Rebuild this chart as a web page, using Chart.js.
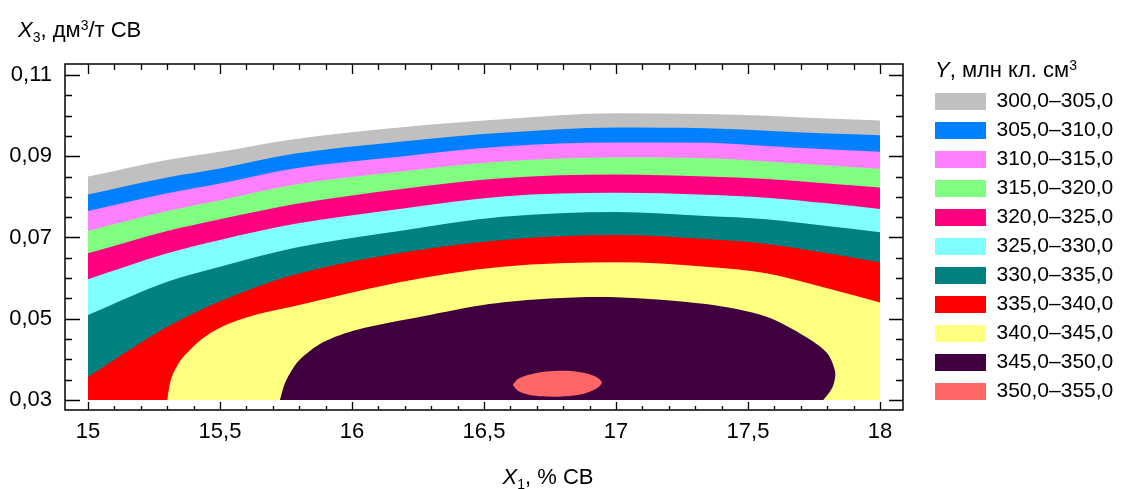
<!DOCTYPE html>
<html>
<head>
<meta charset="utf-8">
<script src="https://cdn.jsdelivr.net/npm/chart.js@4.4.0/dist/chart.umd.min.js"></script>
<style>
html,body{margin:0;padding:0;background:#fff;}
#wrap{width:1122px;height:489px;position:relative;}
</style>
</head>
<body>
<div id="wrap"><canvas id="c"></canvas></div>
<script>
// ---- data ----
const BAND_LABELS = ['300,0–305,0','305,0–310,0','310,0–315,0','315,0–320,0','320,0–325,0','325,0–330,0','330,0–335,0','335,0–340,0','340,0–345,0','345,0–350,0','350,0–355,0'];
const BAND_COLORS = ['#C0C0C0','#0080FF','#FF80FF','#80FF80','#FF0080','#80FFFF','#008080','#FF0000','#FFFF80','#400040','#FF6666'];

// X1 positions shared by the open (top) contour lines
const X_TOP = [15, 15.3, 15.5, 15.78, 16.18, 16.57, 17.0, 17.34, 17.57, 17.8, 18];
// upper boundary (contour level) of each band, X3 values
const Y300 = [0.0850, 0.0891, 0.0911, 0.0942, 0.0971, 0.0991, 0.1006, 0.1004, 0.1000, 0.0993, 0.0988];
const Y305 = [0.0806, 0.0848, 0.0870, 0.0906, 0.0936, 0.0958, 0.0971, 0.0969, 0.0963, 0.0956, 0.0952];
const Y310 = [0.0765, 0.0809, 0.0833, 0.0870, 0.0899, 0.0924, 0.0934, 0.0933, 0.0925, 0.0917, 0.0911];
const Y315 = [0.0716, 0.0765, 0.0792, 0.0830, 0.0862, 0.0887, 0.0897, 0.0895, 0.0887, 0.0877, 0.0869];
const Y320 = [0.0661, 0.0716, 0.0745, 0.0782, 0.0819, 0.0846, 0.0855, 0.0850, 0.0844, 0.0833, 0.0823];
const Y325 = [0.0597, 0.0661, 0.0694, 0.0733, 0.0770, 0.0801, 0.0810, 0.0805, 0.0798, 0.0784, 0.0770];
const Y330 = [0.0509, 0.0591, 0.0628, 0.0674, 0.0716, 0.0751, 0.0763, 0.0753, 0.0745, 0.0728, 0.0713];
const Y335 = [0.0357, 0.0480, 0.0543, 0.0608, 0.0662, 0.0694, 0.0706, 0.0696, 0.0684, 0.0661, 0.0639];

const X340 = [15.30, 15.31, 15.336, 15.386, 15.462, 15.60, 15.78, 16.18, 16.57, 17.0, 17.34, 17.57, 17.8, 18];
const Y340 = [0.0300, 0.0340, 0.0382, 0.0423, 0.0464, 0.0503, 0.0531, 0.0590, 0.0628, 0.0639, 0.0628, 0.0612, 0.0575, 0.0540];

const X345 = [15.727, 15.745, 15.765, 15.80, 15.89, 16.02, 16.27, 16.52, 16.75, 17.0, 17.34, 17.57, 17.72, 17.80, 17.83, 17.825, 17.81, 17.785];
const Y345 = [0.0300, 0.0340, 0.0366, 0.0398, 0.0442, 0.0473, 0.0506, 0.0536, 0.0550, 0.0553, 0.0536, 0.0505, 0.0455, 0.0415, 0.0370, 0.0340, 0.0320, 0.0300];

const X350 = [16.609, 16.63, 16.67, 16.72, 16.78, 16.84, 16.89, 16.93, 16.946, 16.93, 16.89, 16.84, 16.78, 16.72, 16.67, 16.63, 16.609];
const Y350 = [0.0337, 0.0352, 0.0362, 0.0369, 0.0372, 0.0371, 0.0365, 0.0355, 0.0343, 0.0330, 0.0318, 0.0311, 0.0308, 0.0309, 0.0313, 0.0322, 0.0337];

const X_TICKS = [15, 15.5, 16, 16.5, 17, 17.5, 18];
const X_TICK_LABELS = ['15','15,5','16','16,5','17','17,5','18'];
const Y_TICKS = [0.03, 0.05, 0.07, 0.09, 0.11];
const Y_TICK_LABELS = ['0,03','0,05','0,07','0,09','0,11'];
const Y_BASE = 0.03;

// ---- build datasets ----
const FONT = '"Liberation Sans", Arial, sans-serif';
const topCurves = [Y300, Y305, Y310, Y315, Y320, Y325, Y330, Y335];
function pts(xs, ys) { return xs.map((x, i) => ({x: x, y: ys[i]})); }
const datasets = [];
topCurves.forEach((ys, i) => {
  datasets.push({label: BAND_LABELS[i], data: pts(X_TOP, ys), fill: {value: Y_BASE},
    cubicInterpolationMode: 'monotone'});
});
datasets.push({label: BAND_LABELS[8], data: pts(X340, Y340), fill: {value: Y_BASE}, cubicInterpolationMode: 'monotone'});
datasets.push({label: BAND_LABELS[9], data: pts(X345, Y345), fill: 'shape', tension: 0.3});
datasets.push({label: BAND_LABELS[10], data: pts(X350, Y350), fill: 'shape', tension: 0.35});
datasets.forEach((d, i) => {
  d.backgroundColor = BAND_COLORS[i];
  d.borderColor = 'rgba(0,0,0,0)';
  d.borderWidth = 0;
  d.pointRadius = 0;
  d.pointHoverRadius = 0;
  d.order = datasets.length - i;
});

function drawRich(ctx, x, y, parts, size) {
  for (const p of parts) {
    const s = (p.sub || p.sup) ? Math.round(size * 0.64) : size;
    ctx.font = (p.it ? 'italic ' : '') + s + 'px ' + FONT;
    const dy = p.sub ? size * 0.23 : (p.sup ? -size * 0.33 : 0);
    ctx.fillText(p.t, x, y + dy);
    x += ctx.measureText(p.t).width;
  }
}
function richWidth(ctx, parts, size) {
  let w = 0;
  for (const p of parts) {
    const s = (p.sub || p.sup) ? Math.round(size * 0.64) : size;
    ctx.font = (p.it ? 'italic ' : '') + s + 'px ' + FONT;
    w += ctx.measureText(p.t).width;
  }
  return w;
}

const decor = {
  id: 'decor',
  afterDatasetsDraw(chart) {
    const {ctx, chartArea: a, scales} = chart;
    const sx = scales.x, sy = scales.y;
    ctx.save();
    ctx.strokeStyle = '#000';
    ctx.lineWidth = 1.5;
    ctx.strokeRect(a.left, a.top, a.right - a.left, a.bottom - a.top);
    ctx.lineWidth = 1.3;
    ctx.beginPath();
    for (let i = 0; i <= 30; i++) {
      const px = Math.round(sx.getPixelForValue(15 + i * 0.1)) + 0.5;
      const major = i % 5 === 0;
      ctx.moveTo(px, a.bottom); ctx.lineTo(px, a.bottom - (major ? 8 : 4));
      ctx.moveTo(px, a.top); ctx.lineTo(px, a.top + (major ? 10 : 6));
    }
    for (let i = 0; i <= 16; i++) {
      const py = Math.round(sy.getPixelForValue(0.03 + i * 0.005)) + 0.5;
      const major = i % 4 === 0;
      ctx.moveTo(a.left, py); ctx.lineTo(a.left + (major ? 15 : 7), py);
      ctx.moveTo(a.right, py); ctx.lineTo(a.right - (major ? 14 : 7), py);
    }
    ctx.stroke();
    ctx.restore();
  },
  afterDraw(chart) {
    const ctx = chart.ctx;
    ctx.save();
    ctx.fillStyle = '#000';
    ctx.textBaseline = 'alphabetic';
    ctx.textAlign = 'left';
    // y-axis title
    drawRich(ctx, 18, 37, [{t:'X', it:true}, {t:'3', sub:true}, {t:', дм'}, {t:'3', sup:true}, {t:'/т СВ'}], 22);
    // x-axis title
    const xp = [{t:'X', it:true}, {t:'1', sub:true}, {t:', % СВ'}];
    const w = richWidth(ctx, xp, 22);
    drawRich(ctx, 548 - w / 2, 484, xp, 22);
    // legend title
    const lg = chart.legend;
    drawRich(ctx, lg.left + 8, 77, [{t:'Y', it:true}, {t:', млн кл. см'}, {t:'3', sup:true}], 22);
    ctx.restore();
  }
};

Chart.defaults.font.family = FONT;
Chart.defaults.color = '#000';

new Chart(document.getElementById('c'), {
  type: 'line',
  data: {datasets: datasets},
  options: {
    responsive: true,
    maintainAspectRatio: false,
    animation: false,
    events: [],
    layout: {padding: {top: 64, right: 0, bottom: 0, left: 0}},
    scales: {
      x: {
        type: 'linear', position: 'bottom',
        min: 14.9129, max: 18.0871,
        afterBuildTicks: s => { s.ticks = X_TICKS.map(v => ({value: v})); },
        afterFit: s => { s.height = 79; },
        ticks: {
          callback: v => X_TICK_LABELS[X_TICKS.indexOf(v)],
          padding: 9, font: {size: 22}, color: '#000', maxRotation: 0, autoSkip: false
        },
        grid: {display: false, drawTicks: false},
        border: {display: false}
      },
      y: {
        type: 'linear', position: 'left',
        min: 0.027538, max: 0.112708,
        afterBuildTicks: s => { s.ticks = Y_TICKS.map(v => ({value: v})); },
        afterFit: s => { s.width = 65; },
        ticks: {
          callback: v => Y_TICK_LABELS[Y_TICKS.findIndex(t => Math.abs(t - v) < 1e-9)],
          padding: 13, font: {size: 22}, color: '#000', autoSkip: false
        },
        grid: {display: false, drawTicks: false},
        border: {display: false}
      },
      yR: {
        type: 'linear', position: 'right', display: true,
        afterFit: s => { s.width = 24; },
        ticks: {display: false},
        grid: {display: false, drawTicks: false},
        border: {display: false}
      }
    },
    plugins: {
      tooltip: {enabled: false},
      legend: {
        position: 'right', align: 'start', maxWidth: 195,
        title: {display: true, text: ' ', padding: {top: 0, bottom: 9}, font: {size: 10, lineHeight: 1}},
        labels: {
          boxWidth: 51, boxHeight: 17, padding: 8,
          font: {size: 21}, color: '#000',
          sort: (a, b) => a.datasetIndex - b.datasetIndex
        }
      }
    }
  },
  plugins: [decor]
});
</script>
</body>
</html>
